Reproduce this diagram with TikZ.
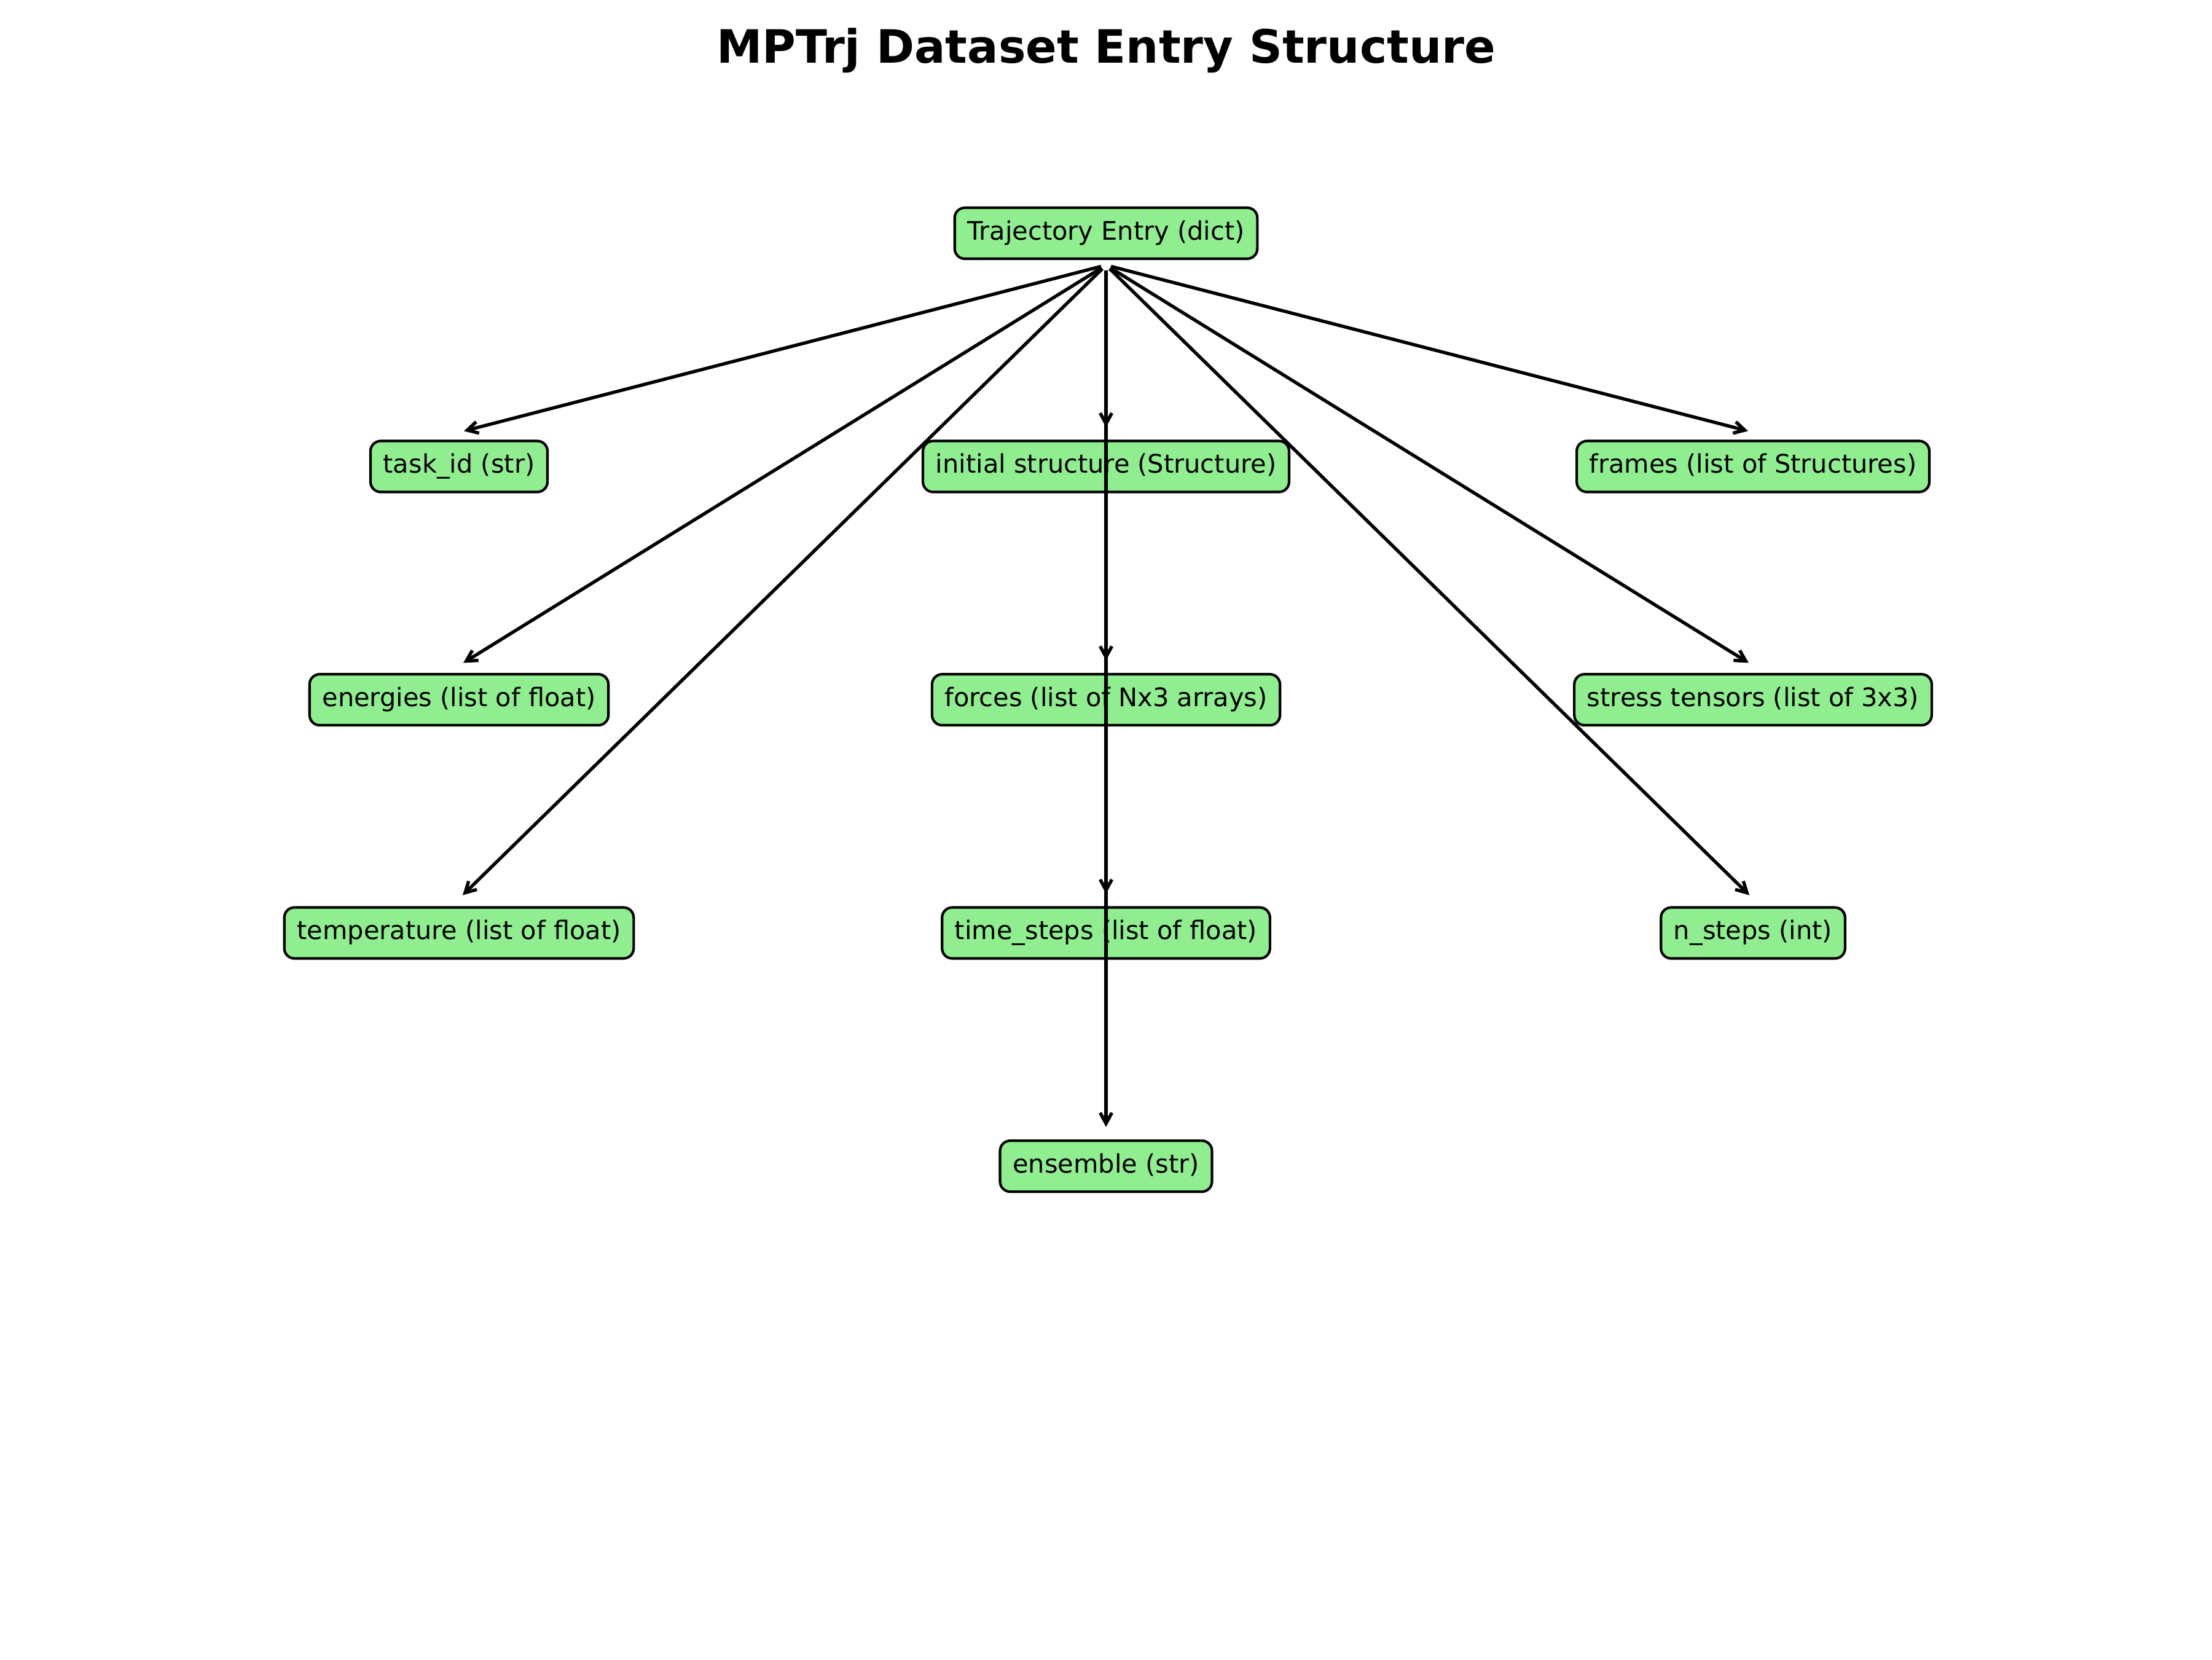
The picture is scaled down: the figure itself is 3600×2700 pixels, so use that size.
\documentclass[tikz,border=0pt]{standalone}
\usepackage{fontspec}
\setmainfont{DejaVu Sans}
\usetikzlibrary{arrows.meta}

\definecolor{lightgreen}{RGB}{144,238,144}

\tikzset{
  field/.style={draw, line width=1pt, fill=lightgreen, rounded corners=4pt,
    inner xsep=5pt, inner ysep=5pt, text height=7.6pt, text depth=2.4pt,
    font=\fontsize{10}{12}\selectfont},
  link/.style={-{Straight Barb[length=4.2pt,width=4.6pt]}, line width=1.3pt,
    shorten <=2pt, shorten >=2pt},
}

\begin{document}
\begin{tikzpicture}[x=0.2409pt,y=-0.2409pt]
%set diagram: 3600 wide, 2700 high
\useasboundingbox (0,0) rectangle (3600,2700);

% Title
\node (title) [anchor=base, font=\fontsize{18}{22}\selectfont\bfseries] at (1800,102) {MPTrj Dataset Entry Structure};

% Text Node
\node [field] (entry) at (1800,379.5) {Trajectory Entry (dict)};
% Text Node
\node [field] (taskid) at (747,759) {task\_id (str)};
% Text Node
\node [field] (initstruct) at (1800,759) {initial structure (Structure)};
% Text Node
\node [field] (frames) at (2853,759) {frames (list of Structures)};
% Text Node
\node [field] (energies) at (747,1138.5) {energies (list of float)};
% Text Node
\node [field] (forces) at (1800,1138.5) {forces (list of Nx3 arrays)};
% Text Node
\node [field] (stress) at (2853,1138.5) {stress tensors (list of 3x3)};
% Text Node
\node [field] (temperature) at (747,1518) {temperature (list of float)};
% Text Node
\node [field] (timesteps) at (1800,1518) {time\_steps (list of float)};
% Text Node
\node [field] (nsteps) at (2853,1518) {n\_steps (int)};
% Text Node
\node [field] (ensemble) at (1800,1897.5) {ensemble (str)};

%common start just under the top box, arrow ends just above each box
\coordinate (entry-out) at ([yshift=-2pt]entry.south);
\coordinate (taskid-in) at ([yshift=2.9pt]taskid.north);
\coordinate (initstruct-in) at ([yshift=2.9pt]initstruct.north);
\coordinate (frames-in) at ([yshift=2.9pt]frames.north);
\coordinate (energies-in) at ([yshift=2.9pt]energies.north);
\coordinate (forces-in) at ([yshift=2.9pt]forces.north);
\coordinate (stress-in) at ([yshift=2.9pt]stress.north);
\coordinate (temperature-in) at ([yshift=2.9pt]temperature.north);
\coordinate (timesteps-in) at ([yshift=2.9pt]timesteps.north);
\coordinate (nsteps-in) at ([yshift=2.9pt]nsteps.north);
\coordinate (ensemble-in) at ([yshift=2.9pt]ensemble.north);

%Straight Lines
\draw [link] (entry-out) -- (taskid-in);
\draw [link] (entry-out) -- (initstruct-in);
\draw [link] (entry-out) -- (frames-in);
%Straight Lines
\draw [link] (entry-out) -- (energies-in);
\draw [link] (entry-out) -- (forces-in);
\draw [link] (entry-out) -- (stress-in);
%Straight Lines
\draw [link] (entry-out) -- (temperature-in);
\draw [link] (entry-out) -- (timesteps-in);
\draw [link] (entry-out) -- (nsteps-in);
%Straight Lines
\draw [link] (entry-out) -- (ensemble-in);

\end{tikzpicture}
\end{document}
